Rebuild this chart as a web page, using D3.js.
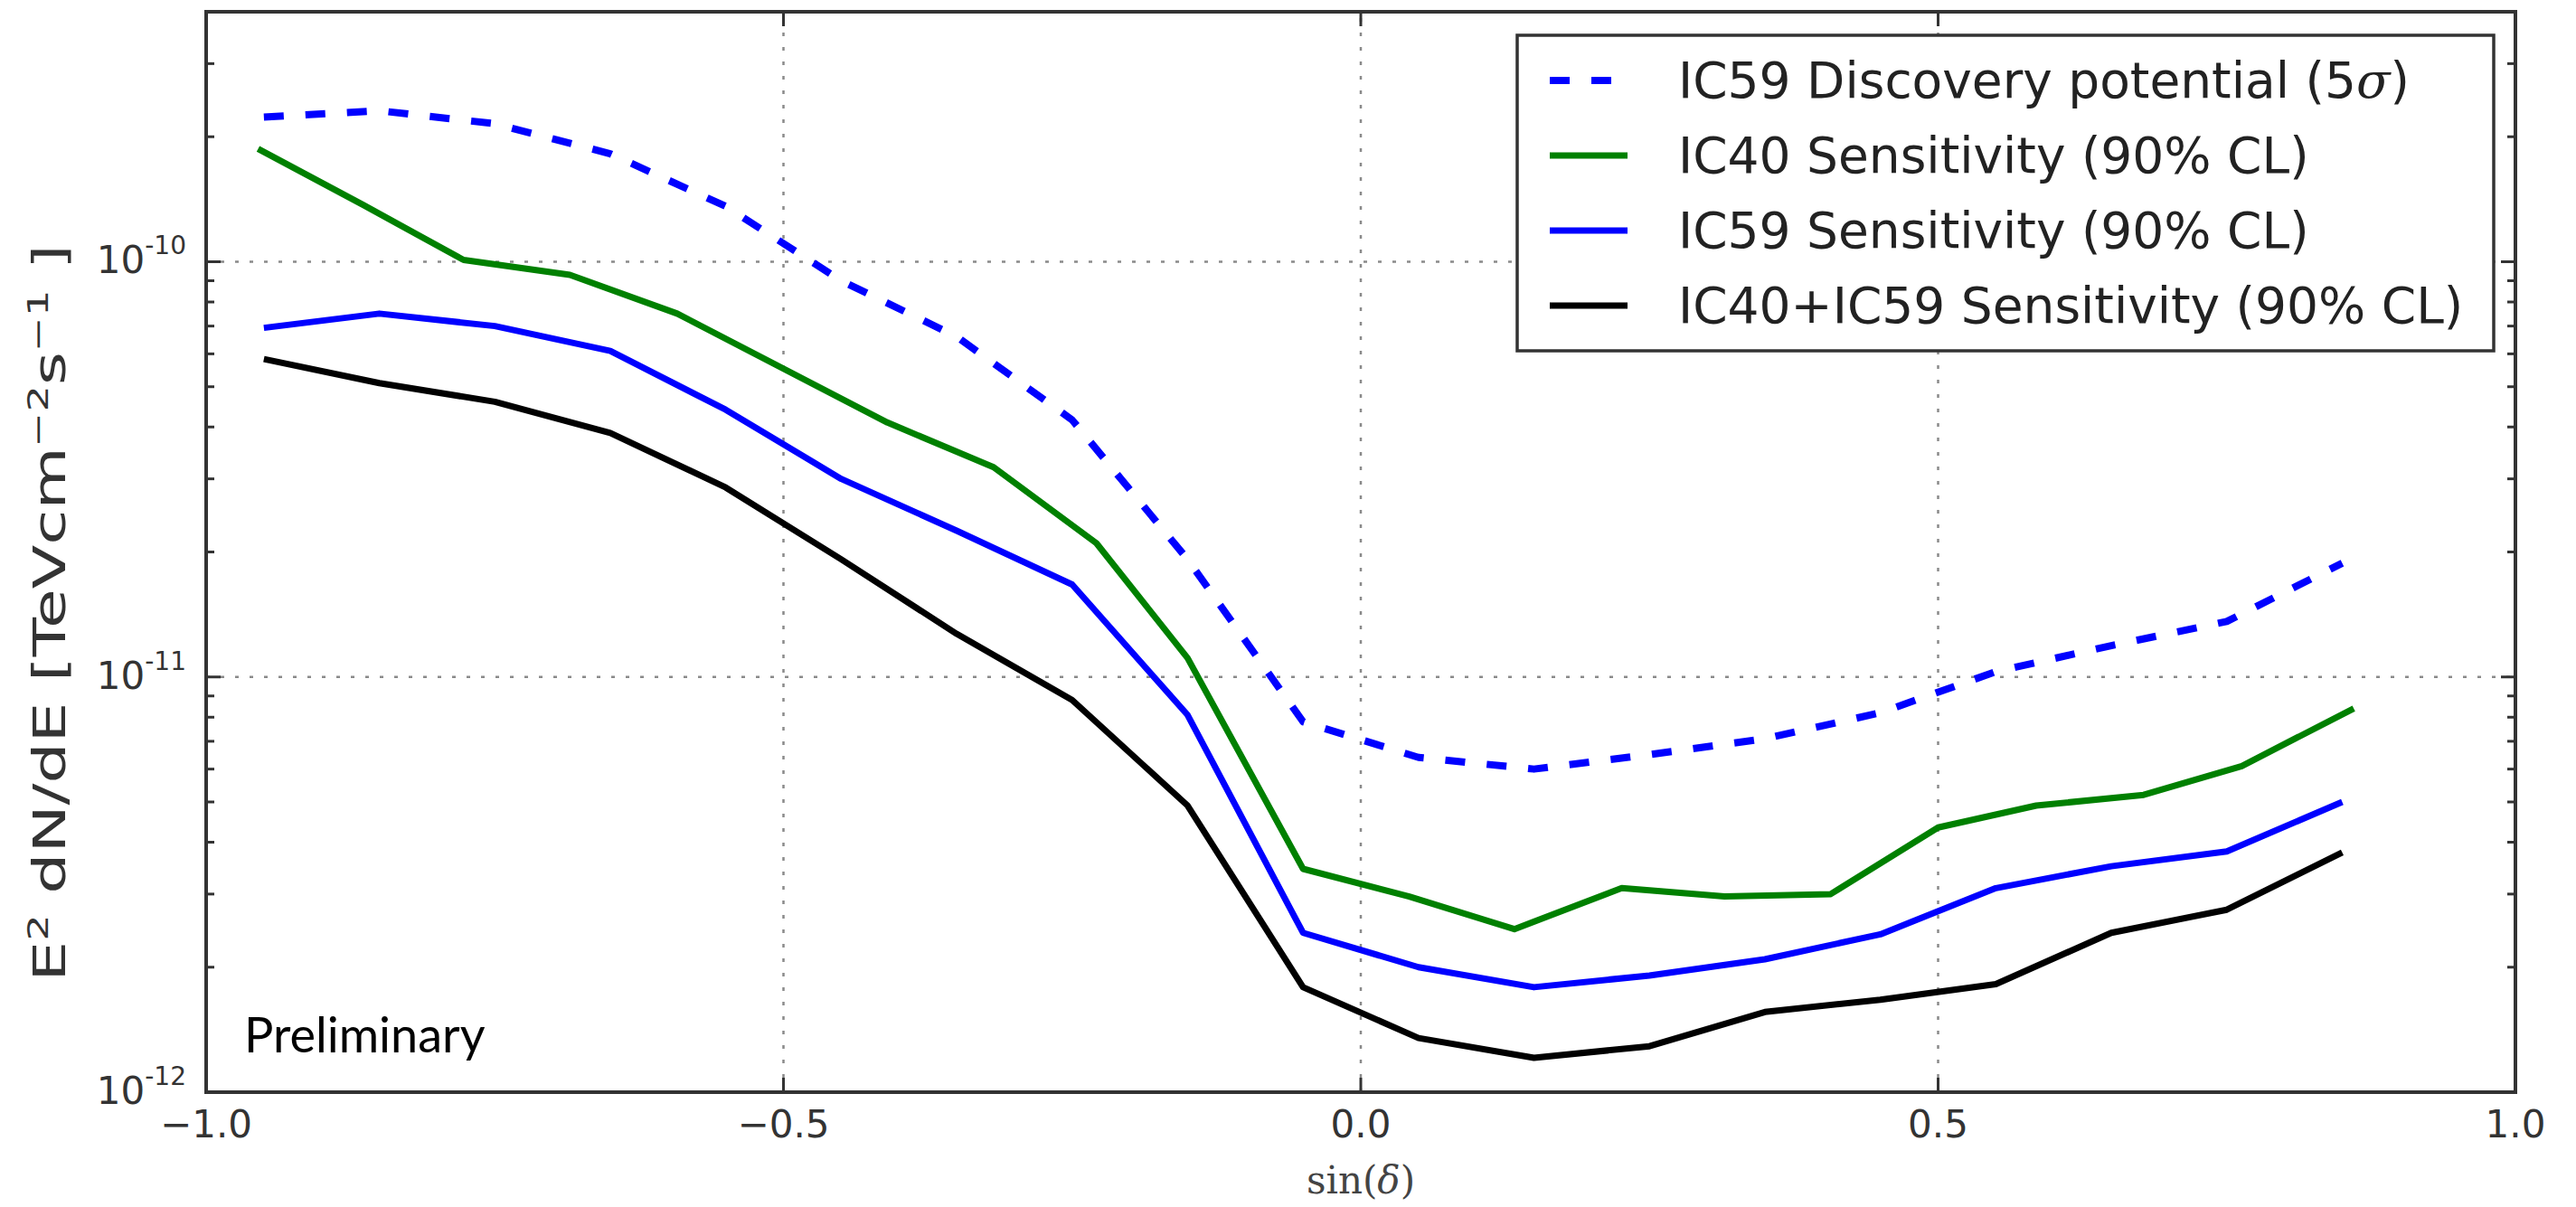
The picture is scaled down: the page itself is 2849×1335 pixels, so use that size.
<!DOCTYPE html>
<html><head><meta charset="utf-8">
<script src="https://cdn.jsdelivr.net/npm/d3@7"></script>
<style>body{margin:0;background:#fff}svg{display:block}</style>
</head><body><svg id="c" width="2849" height="1335"></svg>
<script>
// ---- data ----
const xTicks = [-1.0, -0.5, 0.0, 0.5, 1.0];
const xTickLabels = ["\u22121.0", "\u22120.5", "0.0", "0.5", "1.0"];
const yTicks = [1e-12, 1e-11, 1e-10];
const yTickExponents = ["-12", "-11", "-10"];
const seriesNames = [
  "IC59 Discovery potential (5",
  "IC40 Sensitivity (90% CL)",
  "IC59 Sensitivity (90% CL)",
  "IC40+IC59 Sensitivity (90% CL)"
];
const sinDecIC59 = [-0.95,-0.85,-0.75,-0.65,-0.55,-0.45,-0.35,-0.25,-0.15,-0.05,0.05,0.15,0.25,0.35,0.45,0.55,0.65,0.75,0.85];
const discIC59 = [2.23e-10,2.31e-10,2.15e-10,1.82e-10,1.36e-10,9.0e-11,6.6e-11,4.16e-11,1.92e-11,7.8e-12,6.4e-12,6.0e-12,6.5e-12,7.1e-12,8.2e-12,1.03e-11,1.19e-11,1.36e-11,1.88e-11];
const sensIC59 = [6.93e-11,7.5e-11,7.0e-11,6.1e-11,4.4e-11,3.0e-11,2.25e-11,1.67e-11,8.1e-12,2.42e-12,2.0e-12,1.79e-12,1.91e-12,2.09e-12,2.4e-12,3.1e-12,3.5e-12,3.8e-12,5.0e-12];
const sensComb = [5.83e-11,5.1e-11,4.6e-11,3.87e-11,2.86e-11,1.92e-11,1.27e-11,8.8e-12,4.9e-12,1.79e-12,1.35e-12,1.21e-12,1.29e-12,1.56e-12,1.67e-12,1.82e-12,2.42e-12,2.75e-12,3.78e-12];
const sinDecIC40 = [-0.955,-0.864,-0.777,-0.685,-0.592,-0.41,-0.318,-0.229,-0.15,-0.05,0.042,0.133,0.226,0.315,0.407,0.5,0.585,0.678,0.763,0.86];
const sensIC40 = [1.87e-10,1.37e-10,1.01e-10,9.3e-11,7.5e-11,4.1e-11,3.2e-11,2.1e-11,1.11e-11,3.45e-12,2.96e-12,2.47e-12,3.1e-12,2.96e-12,3.0e-12,4.34e-12,4.9e-12,5.2e-12,6.1e-12,8.4e-12];

// ---- layout ----
const L = 228, R = 2782, T = 13, B = 1208;
const svg = d3.select("#c");
const x = d3.scaleLinear().domain([-1, 1]).range([L, R]);
const y = d3.scaleLog().domain([1e-12, 4e-10]).range([B, T]);

// grid
const grid = svg.append("g").attr("stroke", "#8a8a8a").attr("stroke-width", 2.5).attr("stroke-dasharray", "4,12");
xTicks.slice(1, -1).forEach(v => grid.append("line").attr("x1", x(v)).attr("x2", x(v)).attr("y1", B).attr("y2", T));
yTicks.slice(1).forEach(v => grid.append("line").attr("x1", L).attr("x2", R).attr("y1", y(v)).attr("y2", y(v)));

// series
const line = d3.line().x(d => x(d[0])).y(d => y(d[1]));
const zip = (a, b) => a.map((v, i) => [v, b[i]]);
const series = [
  {name: seriesNames[0], xs: sinDecIC59, ys: discIC59, color: "#0000ff", dash: "22,24", w: 8},
  {name: seriesNames[1], xs: sinDecIC40, ys: sensIC40, color: "#008000", dash: null, w: 7},
  {name: seriesNames[2], xs: sinDecIC59, ys: sensIC59, color: "#0000ff", dash: null, w: 7},
  {name: seriesNames[3], xs: sinDecIC59, ys: sensComb, color: "#000000", dash: null, w: 7}
];
series.forEach(s => {
  svg.append("path").attr("d", line(zip(s.xs, s.ys))).attr("fill", "none")
    .attr("stroke", s.color).attr("stroke-width", s.w).attr("stroke-linejoin", "round")
    .attr("stroke-dasharray", s.dash);
});

// ticks
const tk = svg.append("g").attr("stroke", "#333").attr("stroke-width", 3);
xTicks.slice(1, -1).forEach(v => {
  tk.append("line").attr("x1", x(v)).attr("x2", x(v)).attr("y1", B).attr("y2", B - 16);
  tk.append("line").attr("x1", x(v)).attr("x2", x(v)).attr("y1", T).attr("y2", T + 16);
});
const minor = [];
for (let e = -12; e <= -10; e++) for (let m = 2; m <= 9; m++) { const v = m * Math.pow(10, e); if (v < 4e-10) minor.push(v); }
minor.forEach(v => {
  tk.append("line").attr("x1", L).attr("x2", L + 9).attr("y1", y(v)).attr("y2", y(v));
  tk.append("line").attr("x1", R).attr("x2", R - 9).attr("y1", y(v)).attr("y2", y(v));
});
yTicks.forEach(v => {
  tk.append("line").attr("x1", L).attr("x2", L + 16).attr("y1", y(v)).attr("y2", y(v));
  tk.append("line").attr("x1", R).attr("x2", R - 16).attr("y1", y(v)).attr("y2", y(v));
});

// frame
svg.append("rect").attr("x", L).attr("y", T).attr("width", R - L).attr("height", B - T)
  .attr("fill", "none").attr("stroke", "#333").attr("stroke-width", 4);

// x tick labels
svg.append("g").selectAll("text").data(xTicks).join("text")
  .attr("x", d => x(d)).attr("y", B + 50).attr("text-anchor", "middle")
  .attr("font-family", "DejaVu Sans").attr("font-size", 42).attr("fill", "#333")
  .text((d, i) => xTickLabels[i]);

// y tick labels
yTicks.forEach((v, i) => {
  const t = svg.append("text").attr("x", L - 22).attr("y", y(v) + 13).attr("text-anchor", "end")
    .attr("font-family", "DejaVu Sans").attr("font-size", 42).attr("fill", "#333");
  t.append("tspan").text("10");
  t.append("tspan").attr("dy", -21).attr("font-size", 28).text(yTickExponents[i]);
});

// axis titles
const xt = svg.append("text").attr("x", x(0)).attr("y", 1320).attr("text-anchor", "middle")
  .attr("font-family", "DejaVu Serif").attr("font-size", 42).attr("fill", "#444");
xt.append("tspan").text("sin(");
xt.append("tspan").attr("font-style", "italic").text("\u03b4");
xt.append("tspan").text(")");

const yt = svg.append("text").attr("transform", "translate(72,678) rotate(-90) scale(1.45,1)").attr("text-anchor", "middle")
  .attr("font-family", "DejaVu Sans").attr("font-size", 49).attr("fill", "#333");
yt.append("tspan").text("E");
yt.append("tspan").attr("dy", -19).attr("font-size", 32).text("2");
yt.append("tspan").attr("dy", 19).text(" dN/dE [TeVcm");
yt.append("tspan").attr("dy", -19).attr("font-size", 32).text("\u22122");
yt.append("tspan").attr("dy", 19).text("s");
yt.append("tspan").attr("dy", -19).attr("font-size", 32).text("\u22121");
yt.append("tspan").attr("dy", 19).text(" ]");

// Preliminary
svg.append("text").attr("x", 270).attr("y", 1164).attr("font-family", "Lato").attr("font-size", 54)
  .attr("fill", "#000").text("Preliminary");

// legend
const lg = svg.append("g");
lg.append("rect").attr("x", 1678).attr("y", 39).attr("width", 1080).attr("height", 349)
  .attr("fill", "#fff").attr("stroke", "#333").attr("stroke-width", 3.5);
series.forEach((s, i) => {
  const cy = 89 + i * 83;
  lg.append("line").attr("x1", 1714).attr("x2", 1800).attr("y1", cy).attr("y2", cy)
    .attr("stroke", s.color).attr("stroke-width", s.w).attr("stroke-dasharray", s.dash ? "22,24" : null);
  const t = lg.append("text").attr("x", 1856).attr("y", cy + 19).attr("font-family", "DejaVu Sans")
    .attr("font-size", 55).attr("fill", "#222");
  t.append("tspan").text(s.name);
  if (i === 0) {
    t.append("tspan").attr("font-family", "DejaVu Serif").attr("font-style", "italic").text("\u03c3");
    t.append("tspan").text(")");
  }
});
</script>
</body></html>
